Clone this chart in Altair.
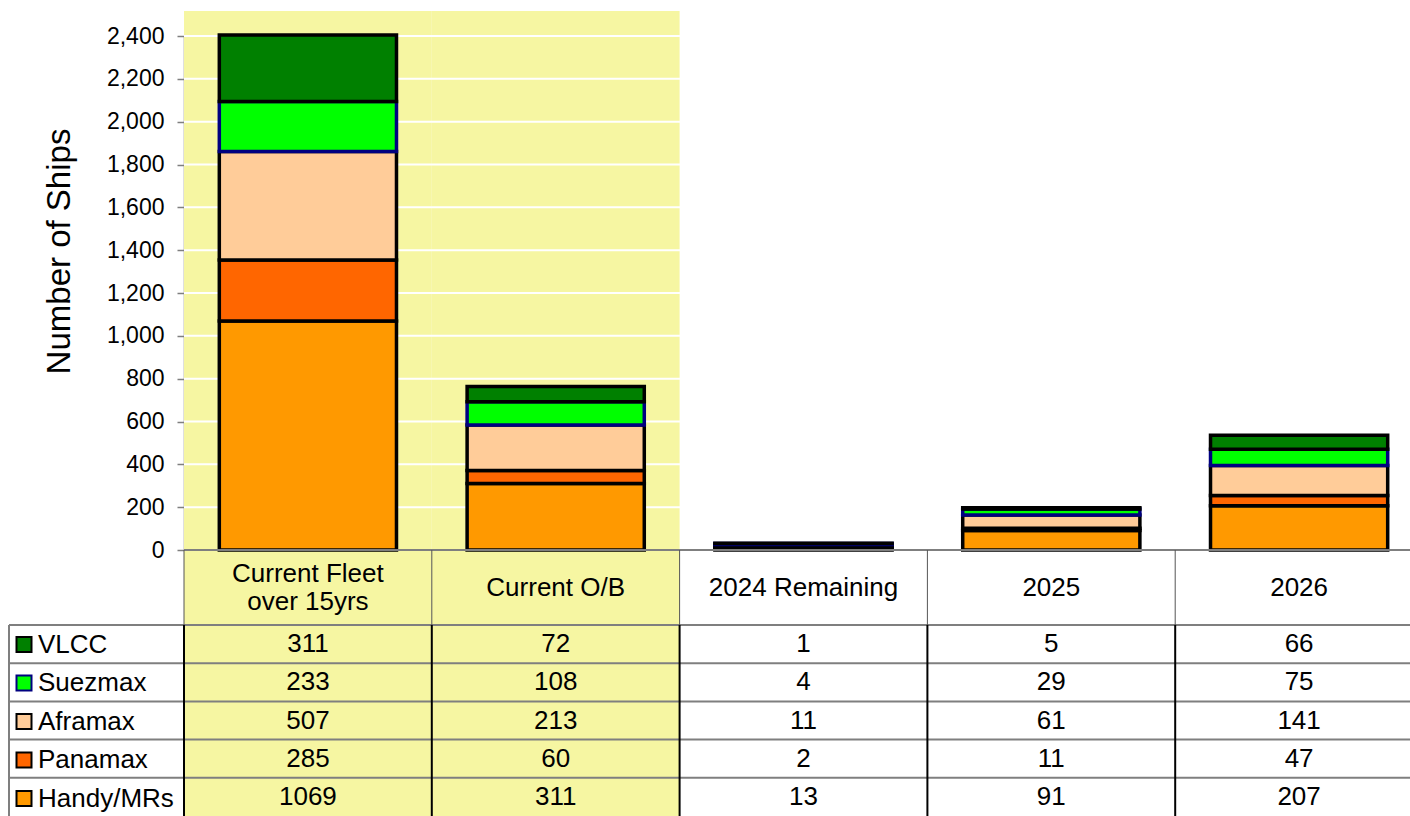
import altair as alt
import pandas as pd

# ---------------- data ----------------
categories = ["Current Fleet over 15yrs", "Current O/B", "2024 Remaining", "2025", "2026"]
header_labels = ["Current Fleet\nover 15yrs", "Current O/B", "2024 Remaining", "2025", "2026"]
highlighted = ["Current Fleet over 15yrs", "Current O/B"]
ship_types = ["VLCC", "Suezmax", "Aframax", "Panamax", "Handy/MRs"]
vlcc = [311, 72, 1, 5, 66]
suezmax = [233, 108, 4, 29, 75]
aframax = [507, 213, 11, 61, 141]
panamax = [285, 60, 2, 11, 47]
handy = [1069, 311, 13, 91, 207]
y_ticks = [0, 200, 400, 600, 800, 1000, 1200, 1400, 1600, 1800, 2000, 2200, 2400]

fill_colors = ["#008000", "#00FF00", "#FFCC99", "#FF6600", "#FF9900"]
stroke_colors = ["#000000", "#000080", "#000000", "#000000", "#000000"]
YELLOW = "#F6F6A2"
FONT = "Liberation Sans"
TXT = 26

series = {"VLCC": vlcc, "Suezmax": suezmax, "Aframax": aframax,
          "Panamax": panamax, "Handy/MRs": handy}

rows = []
# bottom-to-top drawing order
for rank, t in enumerate(reversed(ship_types)):
    for c, v in zip(categories, series[t]):
        rows.append({"cat": c, "type": t, "value": v, "stack": rank})
df = pd.DataFrame(rows)

cat_df = pd.DataFrame({"cat": categories, "label": header_labels, "row": "header"})
hl_df = pd.DataFrame({"cat": highlighted})
tick_df = pd.DataFrame({"v": y_ticks})
type_df = pd.DataFrame({"type": ship_types})

# ---------------- scales ----------------
X = alt.Scale(domain=categories, range=[0, 1239], paddingInner=0, paddingOuter=0)
YBAR = alt.Scale(domain=[0, 2400], range=[539, 25], nice=False, zero=True)
YHDR = alt.Scale(domain=["header"], range=[539, 614], paddingInner=0, paddingOuter=0)
YROW = alt.Scale(domain=ship_types, range=[614, 805], paddingInner=0, paddingOuter=0)

xenc = alt.X("cat:N", scale=X, axis=None, sort=categories)

legend = alt.Legend(
    title=None, orient="none", legendX=-173, legendY=620.5,
    symbolType="square", symbolSize=225, symbolStrokeWidth=2,
    labelFontSize=TXT, labelFont=FONT, labelColor="black",
    rowPadding=12.5, labelOffset=1, padding=0,
)

bg = alt.Chart(hl_df).mark_rect(color=YELLOW).encode(x=xenc)

grid = alt.Chart(tick_df).mark_rule(color="white", strokeWidth=2).encode(
    y=alt.Y("v:Q", scale=YBAR, axis=None)
)

bars = alt.Chart(df).mark_bar(width=alt.RelativeBandSize(0.715), strokeWidth=3.5).encode(
    x=xenc,
    y=alt.Y(
        "value:Q", stack="zero", scale=YBAR, title="Number of Ships",
        axis=alt.Axis(
            values=y_ticks, format=",.0f", grid=False,
            labelFontSize=23, labelFont=FONT, labelColor="black", labelPadding=13,
            tickColor="#7f7f7f", tickSize=7, tickWidth=1.5,
            domainColor="#7f7f7f", domainWidth=1.5,
            titleFontSize=33, titleFont=FONT, titleFontWeight="normal",
            titleColor="black", titlePadding=30, titleY=240,
        ),
    ),
    fill=alt.Fill("type:N", scale=alt.Scale(domain=ship_types, range=fill_colors), legend=legend),
    stroke=alt.Stroke("type:N", scale=alt.Scale(domain=ship_types, range=stroke_colors), legend=legend),
    order=alt.Order("stack:Q", sort="ascending"),
)

baseline = alt.Chart(tick_df).transform_filter(alt.datum.v == 0).mark_rule(
    color="#7f7f7f", strokeWidth=2
).encode(y=alt.Y("v:Q", scale=YBAR, axis=None))

row_lines = alt.Chart(type_df).mark_rule(color="#7f7f7f", strokeWidth=2).encode(
    y=alt.Y("type:N", scale=YROW, bandPosition=0, axis=None),
    x=alt.value(-175), x2=alt.value(1226),
)

hdr_vlines = alt.Chart(cat_df).mark_rule(color="#555555", strokeWidth=1).encode(
    x=alt.X("cat:N", scale=X, axis=None, bandPosition=0, sort=categories),
    y=alt.value(539), y2=alt.value(614),
)

row_vlines = alt.Chart(cat_df).mark_rule(color="black", strokeWidth=2).encode(
    x=alt.X("cat:N", scale=X, axis=None, bandPosition=0, sort=categories),
    y=alt.value(614), y2=alt.value(805),
)

left_border = alt.Chart(cat_df.head(1)).mark_rule(color="#7f7f7f", strokeWidth=2).encode(
    x=alt.value(-175), y=alt.value(614), y2=alt.value(805),
)

hdr_enc = dict(
    x=xenc,
    y=alt.Y("row:N", scale=YHDR, axis=None),
    text="label:N",
)

hdr_single = alt.Chart(cat_df).transform_filter(
    "indexof(datum.label, '\\n') < 0"
).mark_text(
    fontSize=TXT, font=FONT, color="black", align="center", baseline="middle",
).encode(**hdr_enc)

hdr_multi = alt.Chart(cat_df).transform_filter(
    "indexof(datum.label, '\\n') >= 0"
).mark_text(
    fontSize=TXT, font=FONT, color="black", lineBreak="\n", lineHeight=28,
    align="center", baseline="middle", dy=-14,
).encode(**hdr_enc)

val_text = alt.Chart(df).mark_text(
    fontSize=TXT, font=FONT, color="black", align="center", baseline="middle",
).encode(
    x=xenc,
    y=alt.Y("type:N", scale=YROW, axis=None),
    text="value:Q",
)

chart = alt.layer(
    bg, grid, bars, baseline, row_lines, hdr_vlines, row_vlines, left_border,
    hdr_single, hdr_multi, val_text,
).resolve_scale(y="independent").properties(
    width=1226, height=805,
    padding={"left": 184, "top": 11, "right": 0, "bottom": 0},
    autosize=alt.AutoSizeParams(type="none"),
    background="white",
).configure_view(stroke=None)

chart.save("out.html", embed_options={"renderer": "svg", "actions": False})
